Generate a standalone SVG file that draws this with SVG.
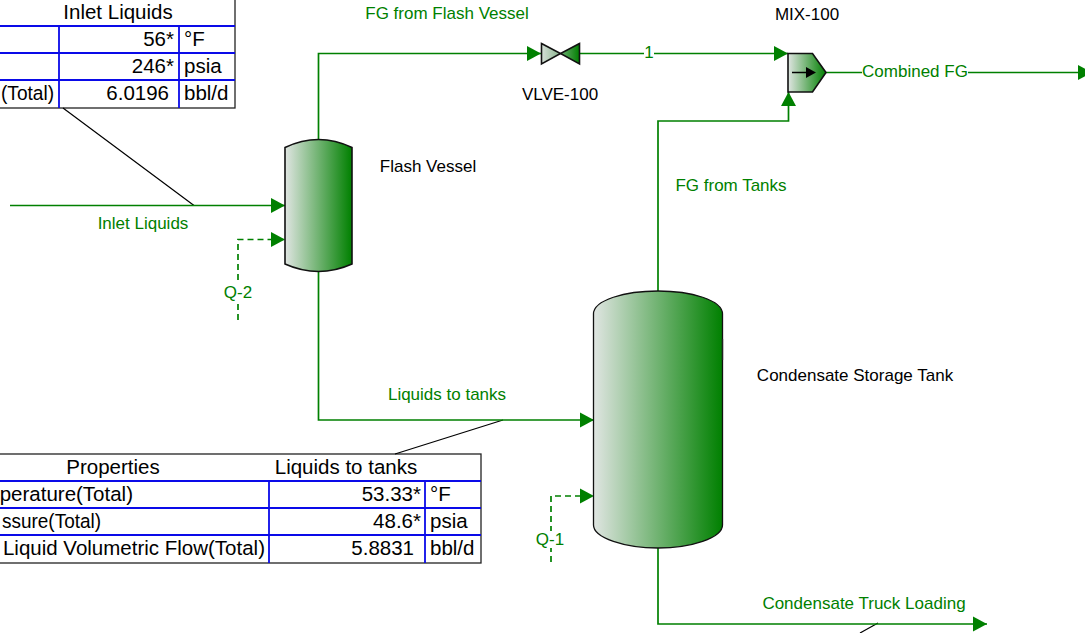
<svg xmlns="http://www.w3.org/2000/svg" width="1085" height="633" viewBox="0 0 1085 633">
<style>
text{font-family:"Liberation Sans",Arial,sans-serif}
.c{fill:none;stroke:#008000;stroke-width:1.7}
.d{stroke-dasharray:6 4}
.lead{fill:none;stroke:#000;stroke-width:1.2}
.g{fill:#008000;font-size:17px;text-anchor:middle}
.k{fill:#000;font-size:17px;text-anchor:middle}
.t{fill:#000;font-size:20.500px}
.m{text-anchor:middle}.e{text-anchor:end}
.b{fill:none;stroke:#0a0ae8;stroke-width:1.800}
.o{fill:#fff;stroke:#222;stroke-width:1.300}
.n{stroke:#111;stroke-width:1.600}
.bg{fill:#fff}
</style>
<defs>
<linearGradient id="gr" x1="0" x2="1" y1="0" y2="0"><stop offset="0" stop-color="#e0e5e2"/><stop offset="1" stop-color="#008000"/></linearGradient>
<linearGradient id="gv" x1="0" x2="1" y1="0" y2="0"><stop offset="0" stop-color="#d5dfd7"/><stop offset="1" stop-color="#88b48c"/></linearGradient>
<linearGradient id="gv2" x1="0" x2="1" y1="0" y2="0"><stop offset="0" stop-color="#6fae74"/><stop offset="1" stop-color="#008000"/></linearGradient>
<marker id="a" markerUnits="userSpaceOnUse" markerWidth="14" markerHeight="15" refX="14" refY="7.500" orient="auto" overflow="visible"><path d="M0,0L14,7.500L0,15Z" fill="#008000"/></marker>
</defs>

<g id="table-inlet">
<rect class="o" x="-5" y="-5" width="240" height="113"/>
<path class="b" d="M-5,26H235M-5,53H235M-5,80H235M59,26V108M179,26V108"/>
<text class="t m" x="118" y="19">Inlet Liquids</text>
<text class="t e" x="174" y="46">56*</text><text class="t" x="184" y="46">°F</text>
<text class="t e" x="174" y="73">246*</text><text class="t" x="184" y="73">psia</text>
<text class="t" x="1" y="100" textLength="53" lengthAdjust="spacingAndGlyphs">(Total)</text><text class="t e" x="169" y="100">6.0196</text><text class="t" x="184" y="100">bbl/d</text>
</g>
<g id="table-liquids">
<rect class="o" x="-5" y="454" width="486" height="109"/>
<path class="b" d="M-5,481H481M-5,508H481M-5,535H481M269,481V563M425,481V563"/>
<text class="t m" x="113" y="474">Properties</text>
<text class="t m" x="346" y="474">Liquids to tanks</text>
<text class="t e" x="133" y="501">perature(Total)</text><text class="t e" x="421" y="501">53.33*</text><text class="t" x="430" y="501">°F</text>
<text class="t" x="2" y="528" textLength="99" lengthAdjust="spacingAndGlyphs">ssure(Total)</text><text class="t e" x="421" y="528">48.6*</text><text class="t" x="430" y="528">psia</text>
<text class="t e" x="265" y="555">Liquid Volumetric Flow(Total)</text><text class="t e" x="414" y="555">5.8831</text><text class="t" x="430" y="555">bbl/d</text>
</g>

<g id="connectors">
<path class="lead" d="M63,108L194,205.500M395,454L503,420M860,633L878,623"/>
<path class="c" marker-end="url(#a)" d="M318.500,140V53.500H541"/>
<path class="c" marker-end="url(#a)" d="M580,53.500H788"/>
<path class="c" marker-end="url(#a)" d="M658,291V121H788.500V92"/>
<path class="c" marker-end="url(#a)" d="M826,72.500H1092"/>
<path class="c" marker-end="url(#a)" d="M10,205.500H285"/>
<path class="c d" marker-end="url(#a)" d="M238,320V239.500H285"/>
<path class="c" marker-end="url(#a)" d="M318.500,271V420H594"/>
<path class="c d" marker-end="url(#a)" d="M551,562V496H594"/>
<path class="c" marker-end="url(#a)" d="M658,548V624H987"/>
<rect class="bg" x="644" y="45" width="10" height="16"/>
<rect class="bg" x="862" y="64" width="106" height="16"/>
<rect class="bg" x="224" y="284" width="28" height="17"/>
<rect class="bg" x="536" y="531" width="29" height="17"/>
<text class="g" x="447" y="19">FG from Flash Vessel</text>
<text class="g" x="649" y="58">1</text>
<text class="g" x="915" y="77">Combined FG</text>
<text class="g" x="731" y="191">FG from Tanks</text>
<text class="g" x="143" y="229">Inlet Liquids</text>
<text class="g" x="238" y="298">Q-2</text>
<text class="g" x="447" y="400">Liquids to tanks</text>
<text class="g" x="550" y="545">Q-1</text>
<text class="g" x="864" y="609">Condensate Truck Loading</text>
</g>

<g id="flash-vessel">
<path class="n" fill="url(#gr)" d="M285,147.500Q318.500,131.500 352,147.500V264Q318.500,279 285,264Z"/>
<text class="k" x="428" y="172">Flash Vessel</text>
</g>
<g id="condensate-tank">
<path class="n" fill="url(#gr)" style="stroke-width:1.300" d="M593.500,314C593.500,300 625,291 658,291C691,291 722.500,300 722.500,314V525C722.500,538 691,548 658,548C625,548 593.500,538 593.500,525Z"/>
<path stroke="#222" stroke-width="1.300" d="M722.500,339V360"/>
<text class="k" x="855" y="381">Condensate Storage Tank</text>
</g>
<g id="valve">
<path class="n" fill="url(#gv)" d="M541.500,43.500L560.500,53.500L541.500,64Z"/>
<path class="n" fill="url(#gv2)" d="M579.500,43.500L560.500,53.500L579.500,64Z"/>
<text class="k" x="560" y="100">VLVE-100</text>
</g>
<g id="mixer">
<path class="n" fill="url(#gr)" d="M788,53.500H812.500L826,72.500L812.500,92H788Z"/>
<path stroke="#000" stroke-width="1.500" d="M792,72.500H807"/><path d="M806,67L816,72.500L806,78Z" fill="#000"/>
<text class="k" x="807" y="20">MIX-100</text>
</g>
</svg>
